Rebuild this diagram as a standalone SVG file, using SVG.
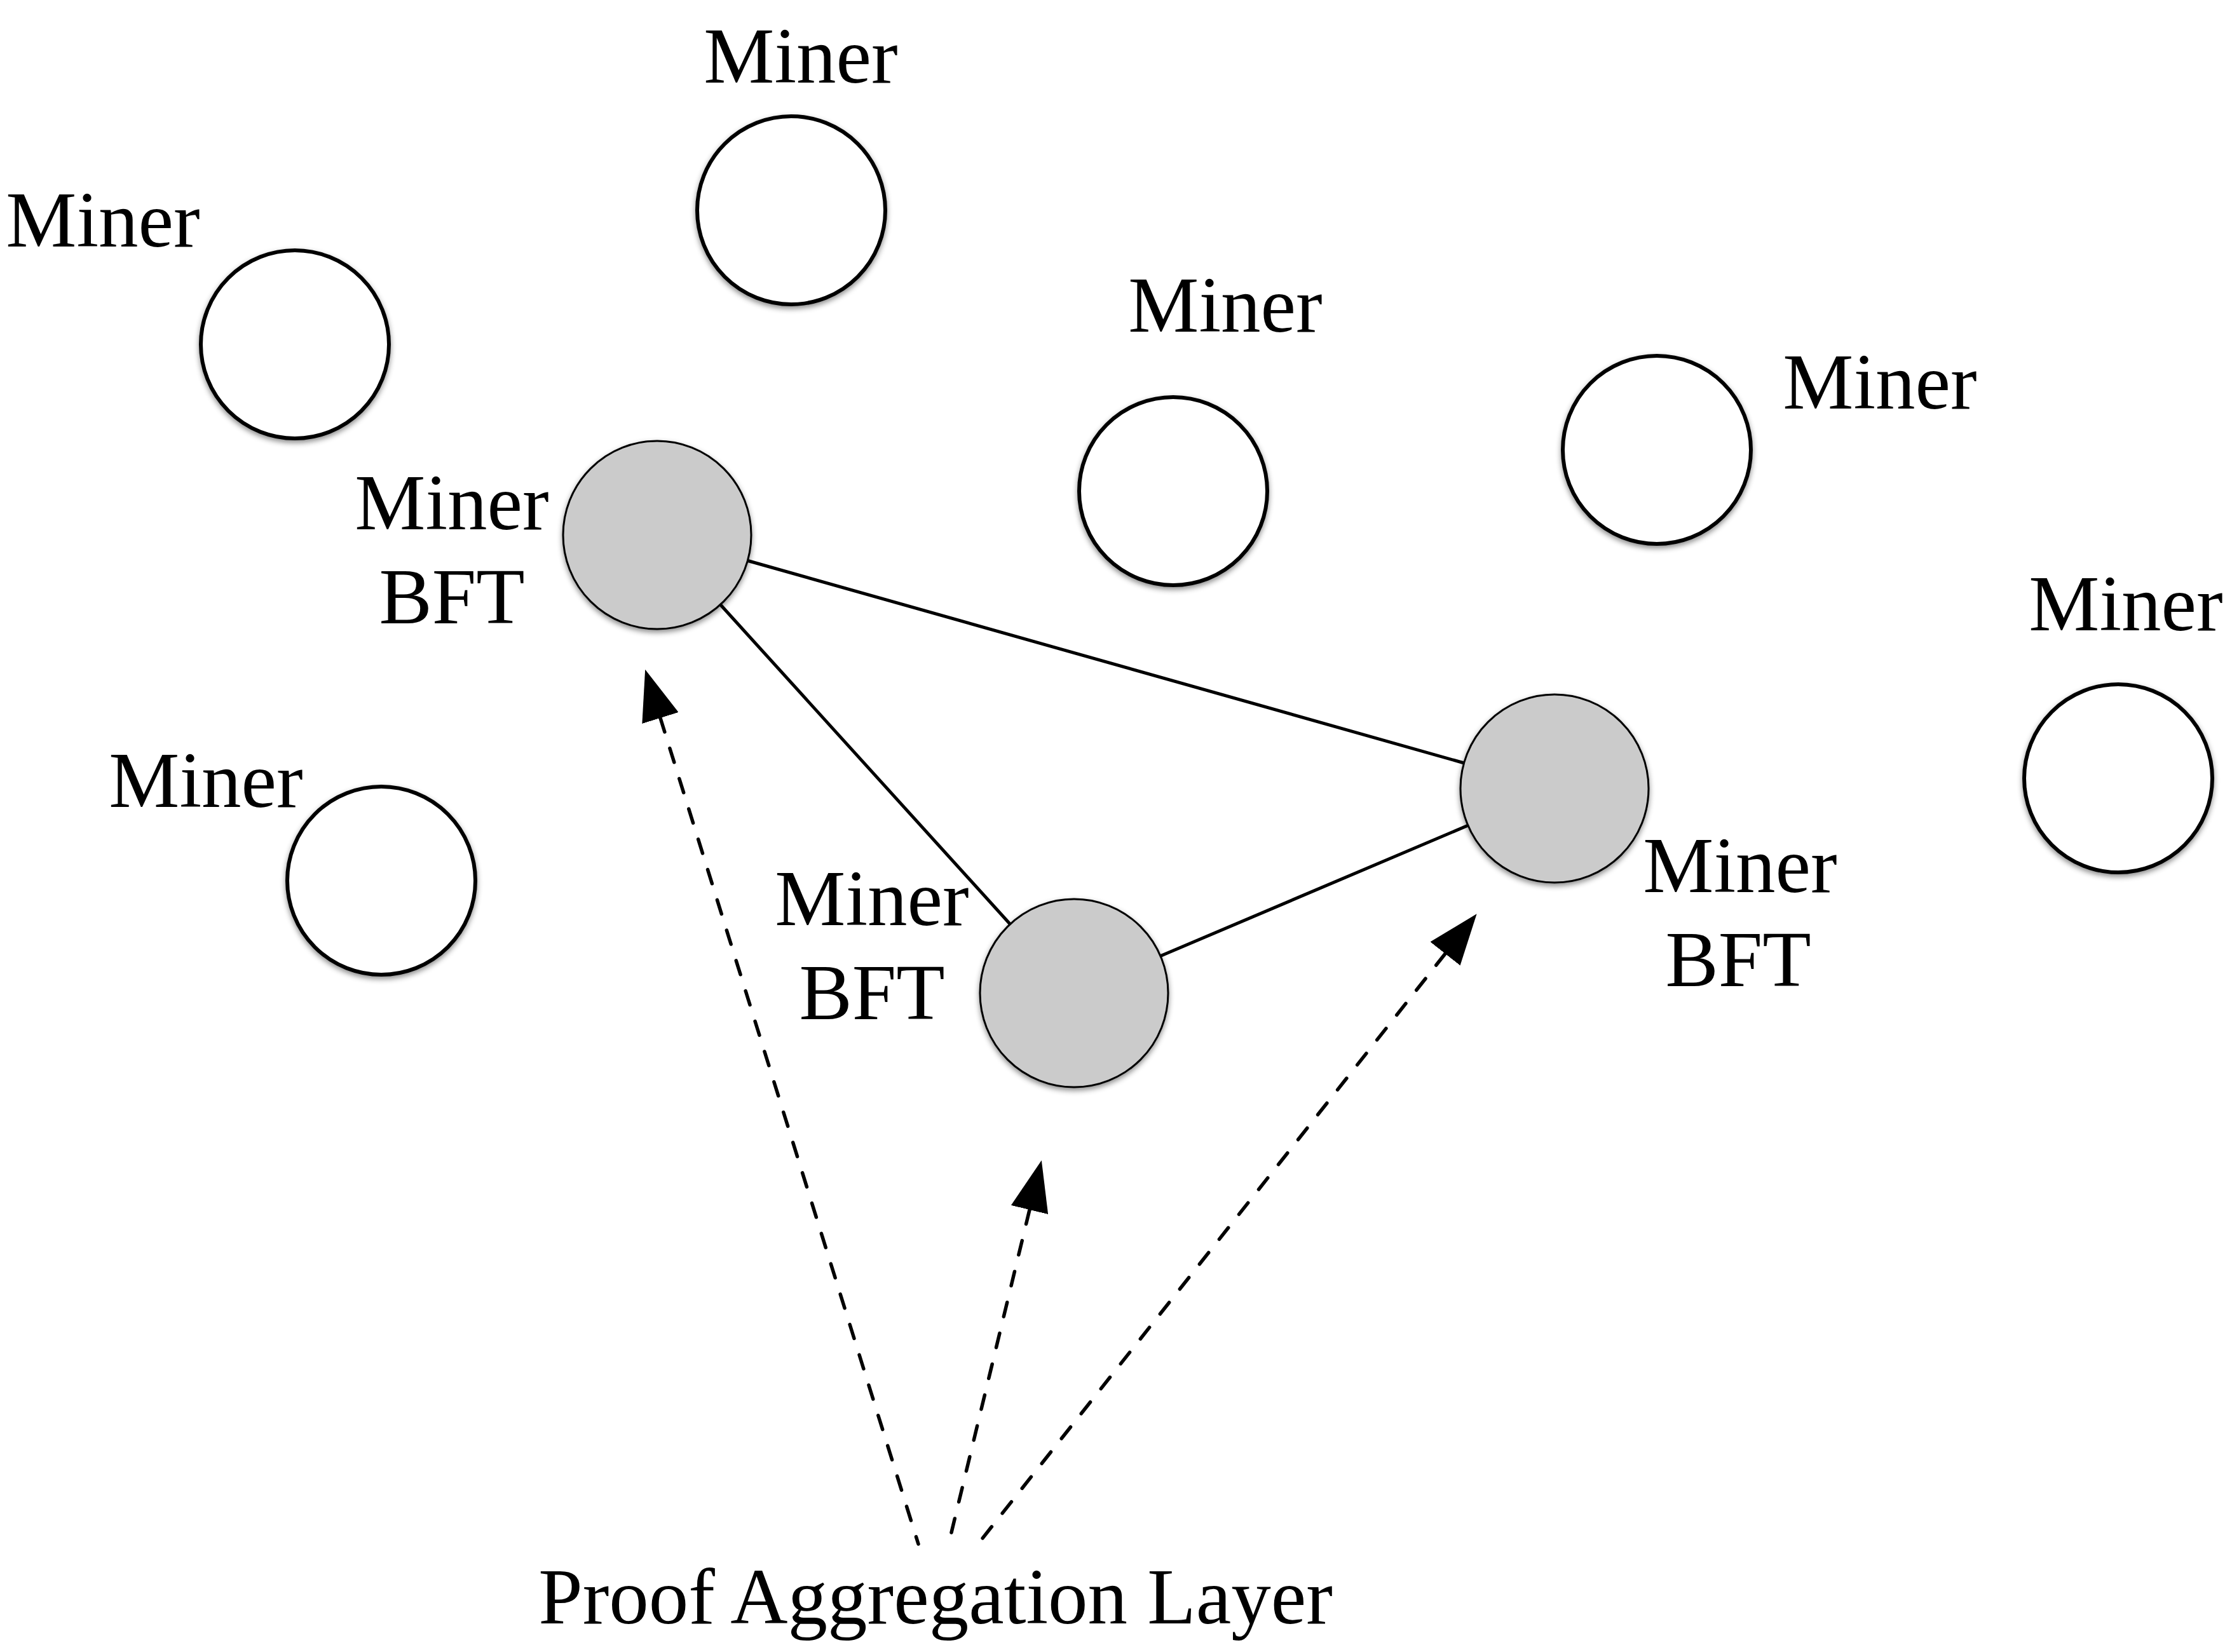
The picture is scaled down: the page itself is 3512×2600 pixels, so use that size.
<svg xmlns="http://www.w3.org/2000/svg" width="3512" height="2600" viewBox="0 0 3512 2600">
<style>
text { font-family: "Liberation Serif", "Times New Roman", serif; font-size: 125px; fill: #000; text-anchor: middle; }
.miner { fill: #fff; stroke: #000; stroke-width: 6; filter: url(#sh); }
.bft { fill: #cbcbcb; stroke: #000; stroke-width: 3; filter: url(#sh); }
.link { stroke: #000; stroke-width: 5; fill: none; }
.dash { stroke: #000; stroke-width: 5.5; fill: none; stroke-dasharray: 23 27; stroke-linecap: round; marker-start: url(#ah); }
</style>
<defs>
<filter id="sh" x="-20%" y="-20%" width="140%" height="150%">
<feDropShadow dx="0" dy="4" stdDeviation="4" flood-color="#000" flood-opacity="0.45"/>
</filter>
<marker id="ah" markerUnits="userSpaceOnUse" markerWidth="80" markerHeight="60" viewBox="0 0 80 60" refX="0" refY="30" orient="auto-start-reverse">
<path d="M0,0 L80,30 L0,60 Z" fill="#000"/>
</marker>
</defs>
<rect width="3512" height="2600" fill="#fff"/>
<g id="connectors">
<line class="link" x1="1175" y1="882" x2="2304" y2="1201"/>
<line class="link" x1="1133" y1="951" x2="1589" y2="1454"/>
<line class="link" x1="1825" y1="1505" x2="2310" y2="1299"/>
<path class="dash" d="M1039,1130 L1445,2430"/>
<path class="dash" d="M1620,1904 L1497,2412"/>
<path class="dash" d="M2274,1501 L1546,2421"/>
</g>
<g id="miner-top"><circle class="miner" cx="1245" cy="331" r="148"/><text x="1260" y="130">Miner</text></g>
<g id="miner-left-top"><circle class="miner" cx="464" cy="542" r="148"/><text x="162" y="388">Miner</text></g>
<g id="miner-mid"><circle class="miner" cx="1846" cy="773" r="148"/><text x="1928" y="522">Miner</text></g>
<g id="miner-right"><circle class="miner" cx="2607" cy="708" r="148"/><text x="2958" y="643">Miner</text></g>
<g id="miner-far-right"><circle class="miner" cx="3333" cy="1225" r="148"/><text x="3345" y="992">Miner</text></g>
<g id="miner-lower-left"><circle class="miner" cx="600" cy="1386" r="148"/><text x="324" y="1270">Miner</text></g>
<g id="bft-a"><circle class="bft" cx="1034" cy="842" r="148"/><text x="711" y="833">Miner</text><text x="711" y="981">BFT</text></g>
<g id="bft-b"><circle class="bft" cx="1690" cy="1563" r="148"/><text x="1372" y="1456">Miner</text><text x="1372" y="1604">BFT</text></g>
<g id="bft-c"><circle class="bft" cx="2446" cy="1241" r="148"/><text x="2738" y="1404">Miner</text><text x="2735" y="1552">BFT</text></g>
<g id="layer-label"><text x="1472" y="2555">Proof Aggregation Layer</text></g>
</svg>
